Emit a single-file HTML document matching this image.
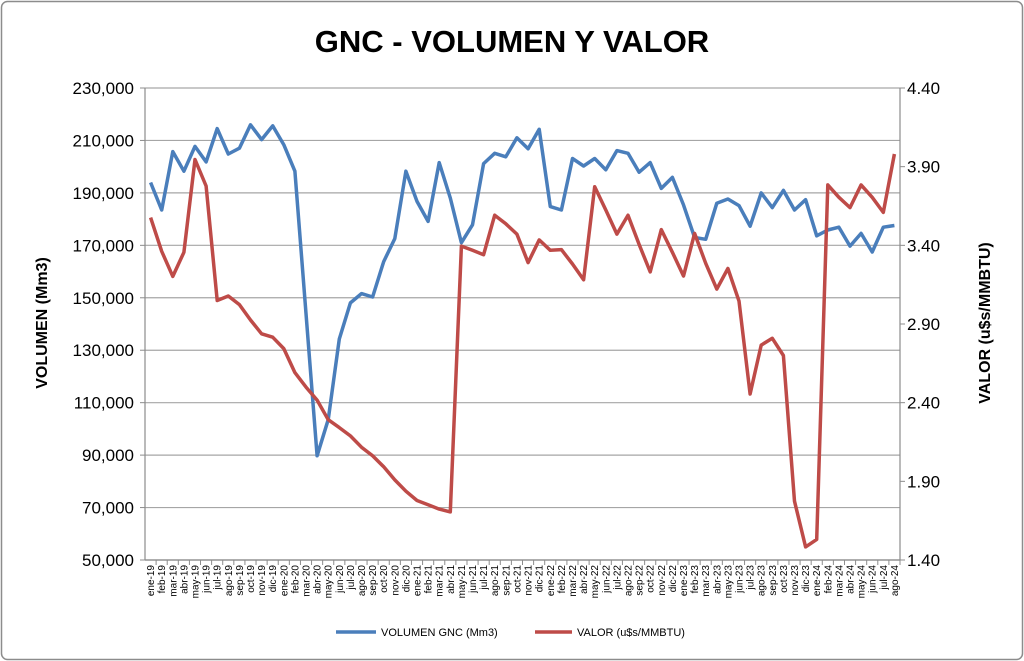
<!DOCTYPE html>
<html><head><meta charset="utf-8"><style>
html,body{margin:0;padding:0;background:#fff;}
svg{display:block;font-family:"Liberation Sans",sans-serif;}
</style></head><body>
<svg id="c" width="1024" height="661" viewBox="0 0 1024 661" xmlns="http://www.w3.org/2000/svg">
<rect x="1.5" y="1.5" width="1021" height="658" rx="6" fill="#fff" stroke="#8c8c8c" stroke-width="1.5"/>
<text x="512" y="52" text-anchor="middle" font-size="31" font-weight="bold" fill="#000">GNC - VOLUMEN Y VALOR</text>
<g id="grid"></g>
<text transform="translate(47,323) rotate(-90)" text-anchor="middle" font-size="16" font-weight="bold">VOLUMEN (Mm3)</text>
<text transform="translate(990,323) rotate(-90)" text-anchor="middle" font-size="16" font-weight="bold">VALOR (u$s/MMBTU)</text>
<line x1="336" y1="632" x2="376" y2="632" stroke="#4a7ebb" stroke-width="3.5"/>
<text x="381" y="636" font-size="11">VOLUMEN GNC (Mm3)</text>
<line x1="535" y1="632" x2="572" y2="632" stroke="#be4b48" stroke-width="3.5"/>
<text x="577" y="636" font-size="11">VALOR (u$s/MMBTU)</text>
</svg>
<script>
var NS="http://www.w3.org/2000/svg",g=document.getElementById("grid");
function el(t,a,txt){var e=document.createElementNS(NS,t);for(var k in a)e.setAttribute(k,a[k]);if(txt!=null)e.textContent=txt;g.appendChild(e);return e;}
var L=145,R=900,T=88,B=560,S=(B-T)/9;
for(var i=0;i<=9;i++){var y=T+i*S;
 el("line",{x1:L,x2:R,y1:y,y2:y,stroke:"#a6a6a6","stroke-width":1.2});
 el("line",{x1:L-5,x2:L,y1:y,y2:y,stroke:"#8c8c8c"});
 var v=230000-i*20000;el("text",{x:134,y:y+6,"text-anchor":"end","font-size":17},v.toLocaleString("en-US"));}
for(var i=0;i<=6;i++){var y=T+i*(B-T)/6;
 el("line",{x1:R,x2:R+5,y1:y,y2:y,stroke:"#8c8c8c"});
 el("text",{x:907,y:y+6,"font-size":17},(4.4-i*0.5).toFixed(2));}
el("line",{x1:L,x2:L,y1:T,y2:B,stroke:"#8c8c8c","stroke-width":1.2});
el("line",{x1:R,x2:R,y1:T,y2:B,stroke:"#8c8c8c","stroke-width":1.2});
el("line",{x1:L,x2:R,y1:B,y2:B,stroke:"#8c8c8c","stroke-width":1.2});
var m=["ene","feb","mar","abr","may","jun","jul","ago","sep","oct","nov","dic"];
var N=68,dx=(R-L)/N;
for(var i=0;i<N;i++){var x=L+dx*(i+0.5);
 el("line",{x1:L+dx*(i+1),x2:L+dx*(i+1),y1:B,y2:B+5,stroke:"#8c8c8c"});
 var lab=m[i%12]+"-"+(19+Math.floor(i/12));
 el("text",{transform:"translate("+(x+3.5)+","+(B+5)+") rotate(-90)","text-anchor":"end","font-size":10},lab);}
var blue=[295,375,205,262,190,235,138,212,195,127,170,130,185,262,676,1090,985,750,645,618,628,525,458,262,350,408,237,340,470,418,240,210,220,165,197,140,365,375,225,247,225,258,202,210,265,237,312,280,360,455,460,355,343,362,422,325,368,318,375,345,450,433,425,480,443,497,425,420];
var red=[397,495,568,498,228,305,638,625,650,695,735,745,778,848,890,928,985,1008,1032,1065,1090,1122,1160,1193,1220,1232,1245,1253,480,492,505,390,415,445,528,462,492,490,532,578,307,375,445,390,475,555,432,498,567,443,530,605,545,640,910,768,748,798,1222,1355,1333,302,338,368,302,338,382,212];
function pts(a){return a.map(function(z,i){return (L+dx*(i+0.5)).toFixed(1)+","+(T+(z-20)*(B-T)/1373).toFixed(1);}).join(" ");}
el("polyline",{points:pts(blue),fill:"none",stroke:"#4a7ebb","stroke-width":3.5,"stroke-linejoin":"round"});
el("polyline",{points:pts(red),fill:"none",stroke:"#be4b48","stroke-width":3.5,"stroke-linejoin":"round"});
</script>
</body></html>
